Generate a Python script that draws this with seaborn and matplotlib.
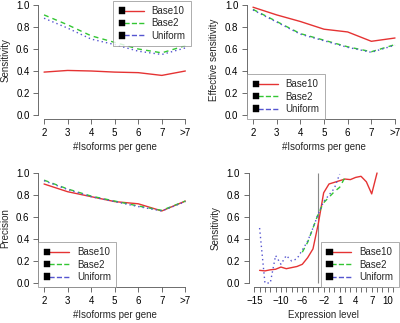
import numpy as np
import pandas as pd
import matplotlib
matplotlib.use("Agg")
import matplotlib.pyplot as plt
import seaborn as sns
from matplotlib.legend_handler import HandlerBase
from matplotlib.patches import Rectangle
from matplotlib.lines import Line2D

# ---------------- data ----------------
methods = ["Base10", "Base2", "Uniform"]
iso_cats = ["2", "3", "4", "5", "6", "7", ">7"]

sens_base10 = [0.39, 0.405, 0.40, 0.39, 0.385, 0.36, 0.40]
sens_base2 = [0.91, 0.82, 0.72, 0.66, 0.60, 0.565, 0.63]
sens_uniform = [0.88, 0.79, 0.69, 0.64, 0.58, 0.55, 0.61]

eff_base10 = [0.98, 0.91, 0.85, 0.78, 0.755, 0.67, 0.70]
eff_base2 = [0.96, 0.85, 0.74, 0.68, 0.62, 0.575, 0.64]
eff_uniform = [0.955, 0.845, 0.735, 0.675, 0.615, 0.57, 0.635]

prec_base10 = [0.90, 0.83, 0.785, 0.74, 0.72, 0.655, 0.745]
prec_base2 = [0.935, 0.855, 0.79, 0.745, 0.70, 0.66, 0.745]
prec_uniform = [0.93, 0.85, 0.785, 0.74, 0.695, 0.655, 0.74]

expr_base10 = list(range(-14, 9))
sensexpr_base10 = [0.115, 0.11, 0.12, 0.125, 0.145, 0.13, 0.14, 0.15, 0.17,
                   0.23, 0.31, 0.54, 0.82, 0.90, 0.915, 0.93, 0.945, 0.94,
                   0.96, 0.97, 0.92, 0.81, 1.0]
expr_base2 = list(range(-6, 3))
sensexpr_base2 = [0.28, 0.37, 0.50, 0.63, 0.73, 0.78, 0.83, 0.87, 0.96]
expr_uniform = list(range(-14, 2))
sensexpr_uniform = [0.50, 0.0, 0.0, 0.25, 0.17, 0.25, 0.20, 0.22, 0.30,
                    0.38, 0.50, 0.63, 0.74, 0.80, 0.86, 0.99]

expr_ticks = list(range(-15, 12))
expr_labels = [-15, -10, -6, -2, 1, 4, 7, 10]
threshold = -3

# ---------------- style ----------------
sns.set_style("ticks")
plt.rcParams["font.family"] = ["Liberation Sans", "DejaVu Sans"]
plt.rcParams["font.size"] = 7
plt.rcParams["axes.linewidth"] = 0.6
plt.rcParams["xtick.major.width"] = 0.6
plt.rcParams["ytick.major.width"] = 0.6
plt.rcParams["xtick.major.size"] = 3.4
plt.rcParams["ytick.major.size"] = 3.4
plt.rcParams["xtick.major.pad"] = 2.5
plt.rcParams["ytick.major.pad"] = 3.0
plt.rcParams["xtick.color"] = "#555555"
plt.rcParams["ytick.color"] = "#555555"
plt.rcParams["xtick.labelcolor"] = "black"
plt.rcParams["ytick.labelcolor"] = "black"

palette = {"Base10": "#E53333", "Base2": "#33C633", "Uniform": "#5555D0"}
dashes = {"Base10": "", "Base2": (3.5, 3), "Uniform": (1, 2.2)}
lstyles = {"Base10": "-", "Base2": (0, (3.5, 3)), "Uniform": (0, (1, 2.2))}


class SqLineHandler(HandlerBase):
    """Legend key: small black square followed by the line sample."""
    def create_artists(self, legend, orig_handle, xdescent, ydescent,
                       width, height, fontsize, trans):
        s = 4.6
        y = height / 2 - ydescent
        line = Line2D([-xdescent + s * 0.8, -xdescent + width], [y, y],
                      color=orig_handle.get_color(),
                      linestyle=orig_handle.get_linestyle(),
                      linewidth=orig_handle.get_linewidth())
        line.set_transform(trans)
        sq = Rectangle((-xdescent, y - s / 2), s, s, facecolor="black",
                       edgecolor="black", linewidth=0.3, transform=trans)
        return [line, sq]


def add_legend(ax, loc):
    handles = [Line2D([], [], color=palette[m], linestyle=lstyles[m], lw=1.0)
               for m in methods]
    leg = ax.legend(handles, methods, loc=loc, borderaxespad=0,
                    handler_map={Line2D: SqLineHandler()},
                    handlelength=2.6, handletextpad=0.8, labelspacing=0.25,
                    borderpad=0.55, fancybox=False, frameon=True, fontsize=7)
    leg.get_frame().set_edgecolor("#888888")
    leg.get_frame().set_linewidth(0.6)
    return leg


def iso_df(a, b, c):
    return pd.DataFrame({
        "cat": iso_cats * 3,
        "val": list(a) + list(b) + list(c),
        "method": [m for m in methods for _ in iso_cats],
    })


fig = plt.figure(figsize=(4.0, 3.23), dpi=100)
W, H = 400.0, 323.0
ax1 = fig.add_axes([38.4 / W, 203.6 / H, 152.6 / W, 118.8 / H])
ax2 = fig.add_axes([247.3 / W, 203.6 / H, 153.4 / W, 118.8 / H])
ax3 = fig.add_axes([38.4 / W, 35.6 / H, 152.6 / W, 118.8 / H])
ax4 = fig.add_axes([248.7 / W, 35.6 / H, 149.9 / W, 118.8 / H])

panels = [
    (ax1, iso_df(sens_base10, sens_base2, sens_uniform), "Sensitivity", "upper right"),
    (ax2, iso_df(eff_base10, eff_base2, eff_uniform), "Effective sensitivity", "lower left"),
    (ax3, iso_df(prec_base10, prec_base2, prec_uniform), "Precision", "lower left"),
]
for ax, df, ylab, loc in panels:
    sns.lineplot(data=df, x="cat", y="val", hue="method", style="method",
                 hue_order=methods, style_order=methods, palette=palette,
                 dashes=dashes, lw=1.0, ax=ax, legend=False, sort=False)
    ax.set_xlim(-0.24, 6.24)
    ax.set_ylim(-0.04, 1.04)
    ax.set_yticks([0, 0.2, 0.4, 0.6, 0.8, 1.0])
    ax.set_yticklabels(["0.0", "0.2", "0.4", "0.6", "0.8", "1.0"])
    ax.set_xticks(range(len(iso_cats)))
    ax.set_xticklabels(iso_cats)
    ax.set_xlabel("#Isoforms per gene", labelpad=3)
    ax.set_ylabel(ylab, labelpad=4)
    add_legend(ax, loc)

df4 = pd.DataFrame({
    "x": expr_base10 + expr_base2 + expr_uniform,
    "val": sensexpr_base10 + sensexpr_base2 + sensexpr_uniform,
    "method": (["Base10"] * len(expr_base10) + ["Base2"] * len(expr_base2)
               + ["Uniform"] * len(expr_uniform)),
})
ax4.vlines(threshold, 0, 1, color="#888888", lw=0.8)
sns.lineplot(data=df4, x="x", y="val", hue="method", style="method",
             hue_order=methods, style_order=methods, palette=palette,
             dashes=dashes, lw=1.0, ax=ax4, legend=False, sort=False)
ax4.set_xlim(-16.04, 12.04)
ax4.set_ylim(-0.04, 1.04)
ax4.set_yticks([0, 0.2, 0.4, 0.6, 0.8, 1.0])
ax4.set_yticklabels(["0.0", "0.2", "0.4", "0.6", "0.8", "1.0"])
ax4.set_xticks(expr_ticks)
ax4.set_xticklabels([("\u2212%d" % -t if t < 0 else str(t)) if t in expr_labels else ""
                     for t in expr_ticks])
ax4.set_xlabel("Expression level", labelpad=3)
ax4.set_ylabel("Sensitivity", labelpad=4)
add_legend(ax4, "lower right")

for ax in (ax1, ax2, ax3, ax4):
    sns.despine(ax=ax, trim=True)
    for sp in ("left", "bottom"):
        ax.spines[sp].set_color("#555555")
    ax.patch.set_alpha(0)

fig.savefig("out.png", dpi=100)
